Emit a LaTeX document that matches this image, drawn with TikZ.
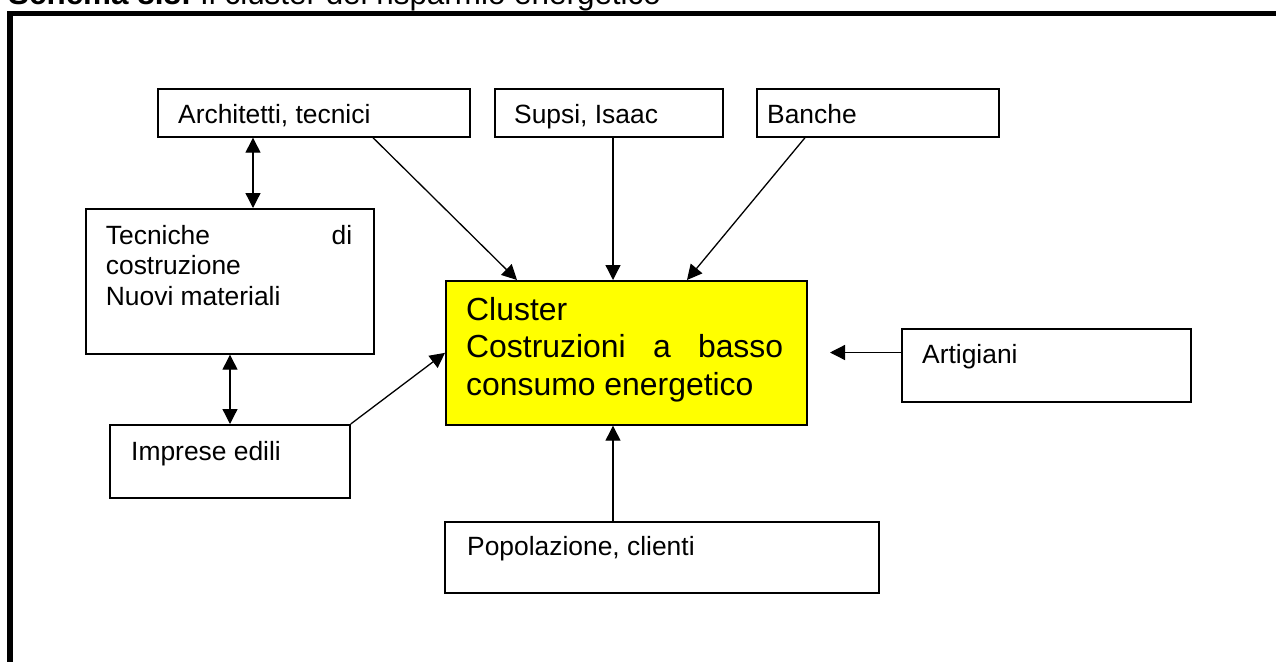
\documentclass[tikz,border=0pt]{standalone}
\usepackage{fontspec}
\setmainfont{Liberation Sans}
\usetikzlibrary{arrows.meta,calc}
\definecolor{cyel}{RGB}{255,255,0}
\tikzset{
  box/.style={draw=black, line width=1.7pt, inner sep=0pt, anchor=north west},
  hot/.style={box, fill=cyel},
  txt/.style={inner sep=0pt, anchor=base west, font=\fontsize{26.4}{30.5}\selectfont},
  bigtxt/.style={inner sep=0pt, anchor=base west, font=\fontsize{31.9}{37.2}\selectfont},
  conn/.style={line width=1.3pt, -{Triangle[length=15pt,width=15pt]}},
  bidir/.style={line width=1.3pt, {Triangle[length=15pt,width=15pt]}-{Triangle[length=15pt,width=15pt]}},
  frame/.style={line width=5.5pt, draw=black}
}
\begin{document}
\begin{tikzpicture}[x=1pt,y=-1pt]
\useasboundingbox (0,0) rectangle (1276,661);
\fill[white] (0,0) rectangle (1276,661);
% title (cut at top, as in the reference)
\node[inner sep=0pt, anchor=base west, font=\fontsize{31.4}{36}\selectfont] (title) at (8,5) {\bfseries Schema 8.8:\mdseries\ Il cluster del risparmio energetico};
% outer frame
\draw[frame] (10,13.3) rectangle (1300,700);
% boxes
\node[box, minimum width=312pt, minimum height=48pt] (arch) at (157,88) {};
\node[box, minimum width=228pt, minimum height=48pt] (supsi) at (494,88) {};
\node[box, minimum width=242pt, minimum height=48pt] (banche) at (756,88) {};
\node[box, minimum width=288pt, minimum height=145pt] (tec) at (85,208) {};
\node[hot, minimum width=361pt, minimum height=144pt] (cluster) at (445,280) {};
\node[box, minimum width=289pt, minimum height=73pt] (art) at (901,328) {};
\node[box, minimum width=240pt, minimum height=73pt] (imp) at (109,424) {};
\node[box, minimum width=434pt, minimum height=71pt] (pop) at (444,521) {};
% texts
\node[txt] (archT) at (178,123) {Architetti, tecnici};
\node[txt] (supsiT) at (514,123) {Supsi, Isaac};
\node[txt] (bancheT) at (767,123) {Banche};
\node[txt] (tecT) at (105.7,244) {\parbox[t]{246.3pt}{\makebox[246.3pt][s]{Tecniche di}\\costruzione\\Nuovi materiali}};
\node[bigtxt] (clusterT) at (466,320.7) {\parbox[t]{317pt}{Cluster\\\makebox[317pt][s]{Costruzioni a basso}\\consumo energetico}};
\node[txt] (artT) at (922,363) {Artigiani};
\node[txt] (impT) at (131,460) {Imprese edili};
\node[txt] (popT) at (467,555) {Popolazione, clienti};
% connectors
\draw[bidir] ([xshift=96pt]arch.south west) -- ([xshift=168pt]tec.north west);
\draw[bidir] ([xshift=145pt]tec.south west) -- ([xshift=121pt]imp.north west);
\draw[conn] ([xshift=216pt]arch.south west) -- ([xshift=72pt]cluster.north west);
\draw[conn] ([xshift=119pt]supsi.south west) -- ([xshift=168pt]cluster.north west);
\draw[conn] ([xshift=49pt]banche.south west) -- ([xshift=242pt]cluster.north west);
\draw[conn] (imp.north east) -- (cluster.west);
\coordinate (artend) at (830,352.5);
\draw[conn] (art.west |- artend) -- (artend);
\draw[conn] ([xshift=169pt]pop.north west) -- ([xshift=168pt]cluster.south west);
\end{tikzpicture}
\end{document}
